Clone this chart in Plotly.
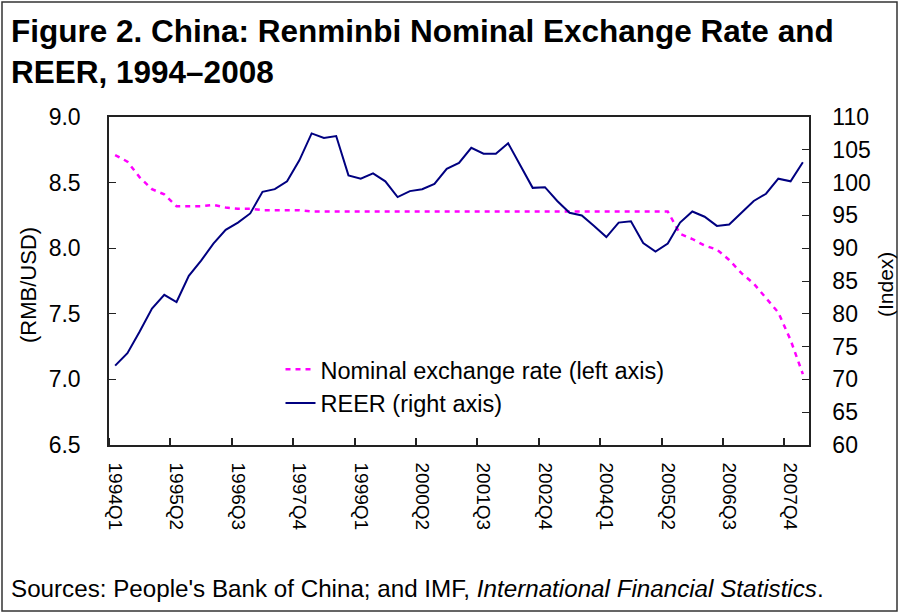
import plotly.graph_objects as go

# quarterly categories, 1994Q1 .. 2008Q1
quarters = [f"{y}Q{q}" for y in range(1994, 2009) for q in range(1, 5)][:57]

# RMB per USD (left axis)
nominal = [8.71, 8.66, 8.54, 8.45, 8.41, 8.32, 8.32, 8.32, 8.33, 8.31,
           8.30, 8.30, 8.29, 8.29, 8.29, 8.29, 8.28, 8.28, 8.28, 8.28,
           8.28, 8.28, 8.28, 8.28, 8.28, 8.28, 8.28, 8.28, 8.28, 8.28,
           8.28, 8.28, 8.28, 8.28, 8.28, 8.28, 8.28, 8.28, 8.28, 8.28,
           8.28, 8.28, 8.28, 8.28, 8.28, 8.28, 8.11, 8.07, 8.02, 7.99,
           7.91, 7.81, 7.73, 7.62, 7.51, 7.30, 7.04]

# REER index (right axis)
reer = [72.1, 74.0, 77.3, 80.8, 82.9, 81.8, 85.8, 88.1, 90.7, 92.8,
        93.9, 95.3, 98.6, 99.0, 100.2, 103.4, 107.5, 106.8, 107.1, 101.1,
        100.6, 101.4, 100.2, 97.8, 98.7, 99.0, 99.8, 102.1, 103.0, 105.3,
        104.4, 104.4, 106.0, 102.7, 99.2, 99.3, 97.2, 95.4, 95.0, 93.4,
        91.7, 93.9, 94.1, 90.8, 89.5, 90.7, 93.9, 95.6, 94.8, 93.4,
        93.6, 95.4, 97.2, 98.3, 100.6, 100.2, 103.1]

FONT = "Liberation Sans, Arial, sans-serif"
W, H = 899, 613
ML, MR, MT, MB = 109, 90, 117, 168
pw, ph = W - ML - MR, H - MT - MB


def px_x(x):
    # figure pixel -> paper x
    return (x - ML) / pw


def px_y(y):
    # figure pixel (from top) -> paper y
    return (H - MB - y) / ph


idx = list(range(len(quarters)))
label_idx = idx[::5]

fig = go.Figure()

fig.add_trace(go.Scatter(
    x=idx, y=nominal, mode="lines",
    name="Nominal exchange rate (left axis)",
    line=dict(color="#FF00FF", width=2.5, dash="5px,5px"),
    legendgroup="a",
))
fig.add_trace(go.Scatter(
    x=idx, y=reer, mode="lines", yaxis="y2",
    name="REER (right axis)",
    line=dict(color="#000080", width=2),
    legendgroup="b",
))

axis_line = dict(showline=True, linecolor="#222222", linewidth=1.5,
                 showgrid=False, zeroline=False)

fig.update_layout(
    width=W, height=H,
    margin=dict(l=ML, r=MR, t=MT, b=MB),
    paper_bgcolor="white", plot_bgcolor="white",
    font=dict(family=FONT, size=23, color="black"),
    xaxis=dict(
        **axis_line, mirror=True,
        range=[-0.5, len(quarters) - 0.5],
        tickvals=label_idx,
        ticktext=[quarters[i] for i in label_idx],
        ticks="", tickangle=90,
        tickfont=dict(size=19),
        ticklabelstandoff=12,
        minor=dict(tickvals=[i - 0.5 for i in label_idx], ticks="inside",
                   ticklen=7, tickcolor="#222222", tickwidth=1.5),
    ),
    yaxis=dict(
        **axis_line,
        range=[6.5, 9.0], dtick=0.5, tickformat=".1f",
        ticks="inside", ticklen=7, tickcolor="#222222",
        ticklabelstandoff=22,
    ),
    yaxis2=dict(
        **axis_line,
        overlaying="y", side="right",
        range=[60, 110], dtick=5,
        ticks="inside", ticklen=7, tickcolor="#222222",
        ticklabelstandoff=17,
    ),
    legend=dict(
        x=0.245, xanchor="left", y=0.297, yanchor="top",
        bgcolor="rgba(0,0,0,0)", font=dict(size=23.5),
        traceorder="grouped", tracegroupgap=0,
    ),
    showlegend=True,
)

# title
fig.add_annotation(
    text="<b>Figure 2. China: Renminbi Nominal Exchange Rate and<br>REER, 1994–2008</b>",
    showarrow=False, xref="paper", yref="paper", xanchor="left", yanchor="top",
    align="left", x=px_x(9), y=px_y(11),
    font=dict(size=31.5),
)

# axis titles
fig.add_annotation(text="(RMB/USD)", textangle=-90, showarrow=False,
                   xref="paper", yref="paper", xanchor="center", yanchor="middle",
                   x=px_x(28), y=px_y(285), font=dict(size=22))
fig.add_annotation(text="(Index)", textangle=-90, showarrow=False,
                   xref="paper", yref="paper", xanchor="center", yanchor="middle",
                   x=px_x(885), y=px_y(285), font=dict(size=21))

# source note
fig.add_annotation(
    text="Sources: People's Bank of China; and IMF, <i>International Financial Statistics</i>.",
    showarrow=False, xref="paper", yref="paper", xanchor="left", yanchor="middle",
    x=px_x(9), y=px_y(588),
    font=dict(size=24.2),
)

# outer frame
fig.add_shape(type="rect", xref="paper", yref="paper",
              x0=px_x(2), x1=px_x(W - 2), y0=px_y(H - 2), y1=px_y(2),
              line=dict(color="#333333", width=1.5))

fig.write_html("out.html", config={"displayModeBar": False},
               post_script="document.body.style.margin='0';")
